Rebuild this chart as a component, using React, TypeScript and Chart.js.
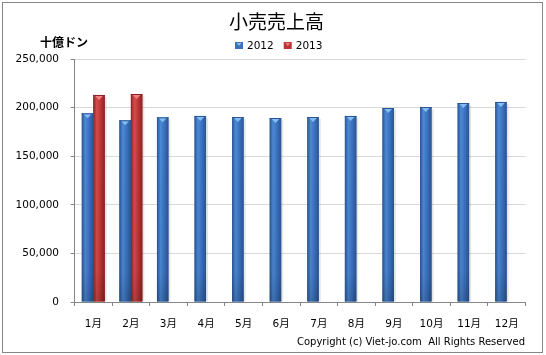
import React, { useEffect, useRef } from 'react';
import { Chart, registerables } from 'chart.js';

Chart.register(...registerables);

const months = ['1月', '2月', '3月', '4月', '5月', '6月', '7月', '8月', '9月', '10月', '11月', '12月'];
const seriesNames = ['2012', '2013'];
const sales2012 = [194100, 186900, 190000, 191400, 190300, 189300, 190300, 191400, 199600, 200600, 204700, 205800];
const sales2013 = [213000, 214000, null, null, null, null, null, null, null, null, null, null];
const yMin = 0;
const yMax = 250000;
const yStep = 50000;
const titleText = '小売売上高';
const unitText = '十億ドン';
const copyrightText = 'Copyright (c) Viet-jo.com  All Rights Reserved';

const shades = [
  { dark: '#2a5592', light: '#4c8ad6', mid: '#3a70bd', cap: '#86bdf2' },
  { dark: '#8a2323', light: '#d84c4a', mid: '#bb3535', cap: '#ee8080' },
];

const tickFont = { family: '"DejaVu Sans", "Noto Sans CJK JP"', size: 10.5 };

const decor = {
  id: 'decor',
  beforeDraw(chart: any) {
    const ctx = chart.ctx;
    ctx.save();
    ctx.fillStyle = '#ffffff';
    ctx.fillRect(0, 0, chart.width, chart.height);
    ctx.restore();
  },
  afterDatasetsDraw(chart: any) {
    const ctx = chart.ctx;
    ctx.save();
    chart.data.datasets.forEach((ds: any, i: number) => {
      const meta = chart.getDatasetMeta(i);
      const s = shades[i];
      meta.data.forEach((el: any, j: number) => {
        if (ds.data[j] == null) return;
        const { x, y, base, width } = el.getProps(['x', 'y', 'base', 'width'], true);
        const l = x - width / 2;
        const r = x + width / 2;
        const h = base - y;
        ctx.fillStyle = 'rgba(0,0,0,0.10)';
        ctx.fillRect(r, y + 2, 2, h - 2);
        const g = ctx.createLinearGradient(l, 0, r, 0);
        g.addColorStop(0, s.dark);
        g.addColorStop(0.3, s.light);
        g.addColorStop(0.65, s.mid);
        g.addColorStop(1, s.dark);
        ctx.fillStyle = g;
        ctx.fillRect(l, y, width, h);
        const v = ctx.createLinearGradient(0, y, 0, base);
        v.addColorStop(0, 'rgba(0,0,0,0)');
        v.addColorStop(0.85, 'rgba(0,0,0,0.05)');
        v.addColorStop(1, 'rgba(0,0,0,0.18)');
        ctx.fillStyle = v;
        ctx.fillRect(l, y, width, h);
        ctx.fillStyle = s.cap;
        ctx.beginPath();
        ctx.moveTo(l + 1, y);
        ctx.lineTo(r - 1, y);
        ctx.lineTo(x, y + 5);
        ctx.closePath();
        ctx.fill();
        ctx.fillStyle = s.dark;
        ctx.fillRect(l, y, width, 1);
      });
    });
    ctx.restore();
  },
  afterDraw(chart: any) {
    const ctx = chart.ctx;
    ctx.save();
    ctx.fillStyle = '#000000';
    ctx.textAlign = 'center';
    ctx.textBaseline = 'middle';
    ctx.font = '19px "Noto Sans CJK JP"';
    ctx.fillText(titleText, 276.5, 22);
    ctx.font = 'bold 12px "Noto Sans CJK JP"';
    ctx.fillText(unitText, 64, 42.5);

    // legend
    ctx.font = '10.5px "DejaVu Sans"';
    ctx.textAlign = 'left';
    let lx = 235;
    seriesNames.forEach((name, i) => {
      const s = shades[i];
      ctx.fillStyle = s.mid;
      ctx.fillRect(lx, 42, 8, 7);
      ctx.fillStyle = s.cap;
      ctx.beginPath();
      ctx.moveTo(lx + 1.5, 43);
      ctx.lineTo(lx + 6.5, 43);
      ctx.lineTo(lx + 4, 46);
      ctx.closePath();
      ctx.fill();
      ctx.fillStyle = '#000000';
      ctx.fillText(name, lx + 12, 46);
      lx += 12 + ctx.measureText(name).width + 10;
    });

    ctx.textAlign = 'right';
    ctx.font = '10px "DejaVu Sans"';
    ctx.fillText(copyrightText, 525, 342, 236);

    ctx.strokeStyle = '#868686';
    ctx.lineWidth = 1;
    ctx.strokeRect(2.5, 2.5, 540, 350);
    ctx.restore();
  },
};

export default function App() {
  const ref = useRef<HTMLCanvasElement | null>(null);
  useEffect(() => {
    if (!ref.current) return;
    const chart = new Chart(ref.current, {
      type: 'bar',
      data: {
        labels: months,
        datasets: [
          { label: seriesNames[0], data: sales2012, backgroundColor: shades[0].mid, borderWidth: 0 },
          { label: seriesNames[1], data: sales2013 as any, backgroundColor: shades[1].mid, borderWidth: 0 },
        ],
      },
      options: {
        responsive: false,
        animation: false,
        devicePixelRatio: 1,
        layout: { padding: { top: 59, right: 20.5, left: 0, bottom: 0 } },
        datasets: { bar: { categoryPercentage: 0.612, barPercentage: 1 } },
        plugins: {
          legend: { display: false },
          title: { display: false },
          tooltip: { enabled: false },
        },
        scales: {
          x: {
            afterFit: (s: any) => { s.height = 53; },
            grid: { drawOnChartArea: false, drawTicks: true, tickLength: 4, color: '#868686', offset: true },
            border: { color: '#868686' },
            ticks: { color: '#000000', font: tickFont, padding: 12, maxRotation: 0 },
          },
          y: {
            min: yMin,
            max: yMax,
            afterFit: (s: any) => { s.width = 74.5; },
            grid: {
              color: (c: any) => (c.tick && c.tick.value === 0 ? '#868686' : '#d9d9d9'),
              tickColor: '#868686',
              tickLength: 4,
            },
            border: { color: '#868686' },
            ticks: {
              stepSize: yStep,
              color: '#000000',
              font: tickFont,
              padding: 11.5,
              callback: (v: any) => Number(v).toLocaleString('en-US'),
            },
          },
        },
      },
      plugins: [decor],
    });
    return () => chart.destroy();
  }, []);
  return (
    <div style={{ position: 'absolute', left: 0, top: 0, width: 546, height: 355 }}>
      <canvas ref={ref} width={546} height={355} style={{ display: 'block' }} />
    </div>
  );
}
